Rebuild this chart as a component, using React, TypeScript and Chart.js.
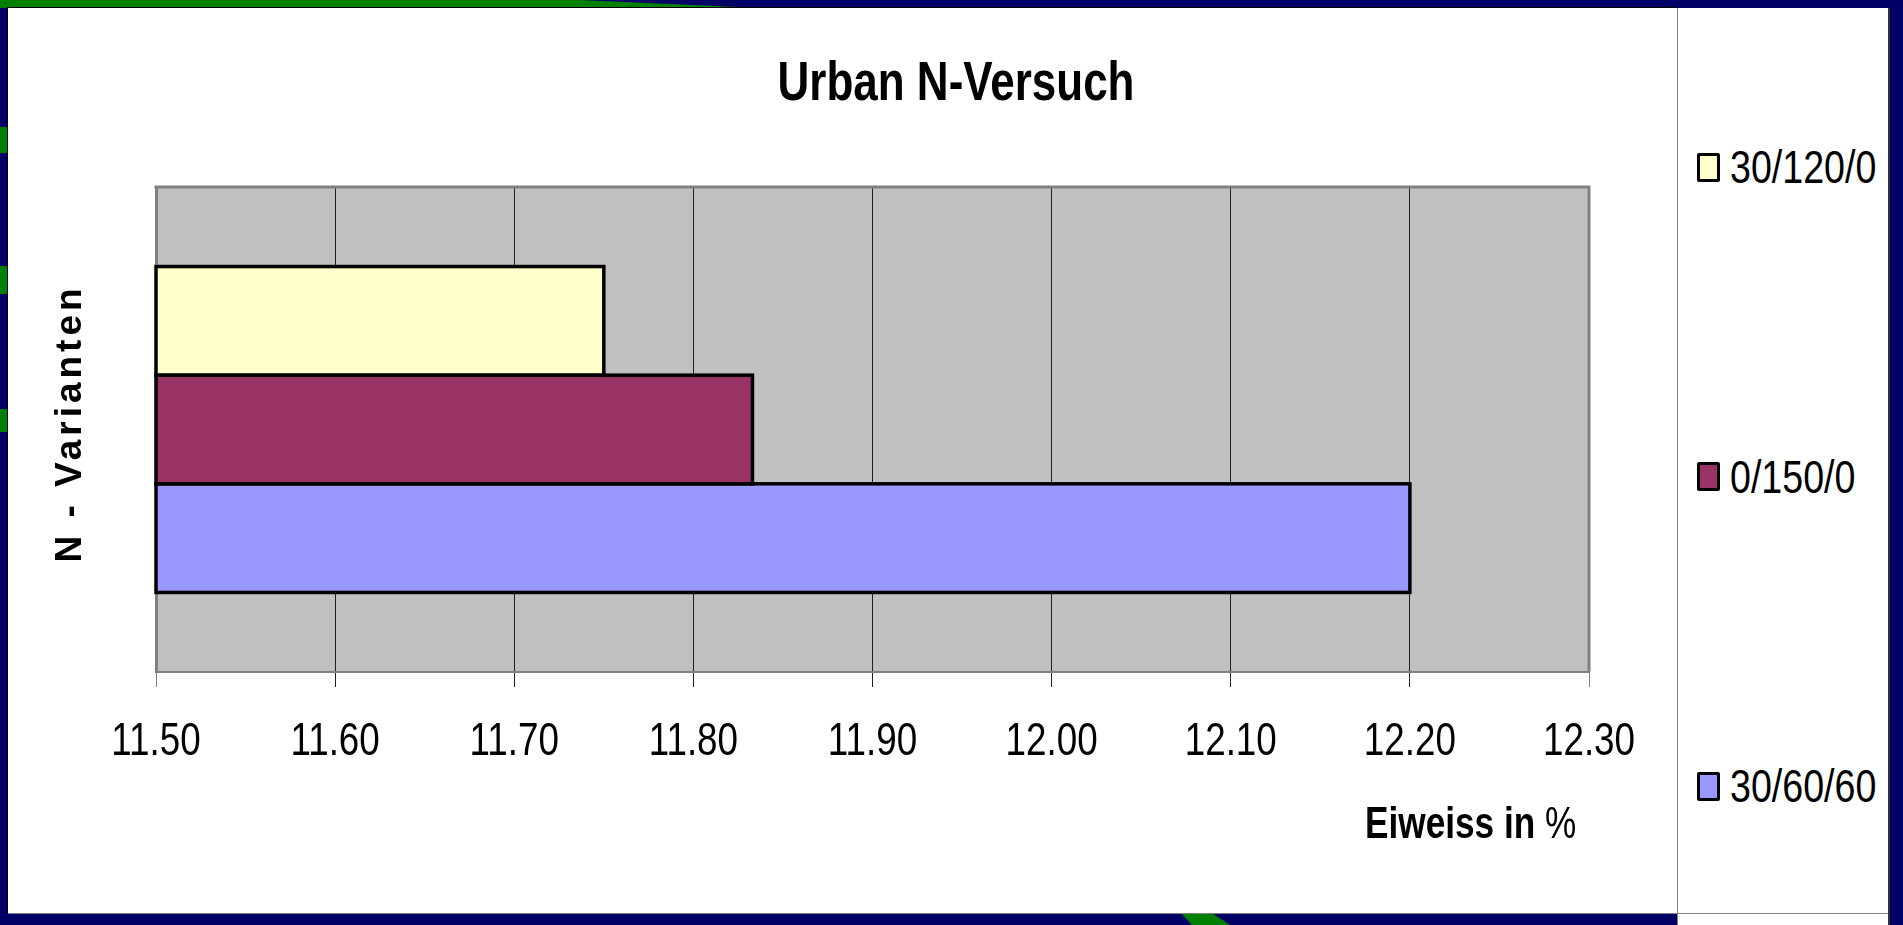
import React, { useEffect, useRef } from "react";
import { Chart, registerables } from "chart.js";

Chart.register(...registerables);

// ---------- data ----------
const categories = [""];
const seriesLabels = ["30/120/0", "0/150/0", "30/60/60"];
const seriesValues = [11.75, 11.833, 12.2];
const seriesColors = ["#FFFFCC", "#993366", "#9999FF"];
const xTickValues = [11.5, 11.6, 11.7, 11.8, 11.9, 12.0, 12.1, 12.2, 12.3];
const chartTitle = "Urban N-Versuch";
const yAxisTitle = "N - Varianten";
const xAxisTitleBold = "Eiweiss in ";
const xAxisTitleRegular = "%";

// ---------- styles ----------
// "Arial Narrow" is emulated: Liberation Sans drawn with a horizontal squeeze.
const NARROW = "'Arial Narrow', 'Liberation Sans', Arial, sans-serif";
const SANS = "'Liberation Sans', Arial, sans-serif";
const SQUEEZE = 0.8;
const NAVY = "#000066";
const GREEN = "#008000";
const BAR_OUTLINE = 3.5;

function installNarrowEmulation(ctx: any) {
  if (!ctx || ctx.__narrowPatched) return;
  const origFill = ctx.fillText.bind(ctx);
  const origMeasure = ctx.measureText.bind(ctx);
  const isNarrow = () => String(ctx.font).indexOf("Arial Narrow") !== -1;
  ctx.fillText = (text: string, x: number, y: number, maxWidth?: number) => {
    if (!isNarrow()) {
      return maxWidth === undefined ? origFill(text, x, y) : origFill(text, x, y, maxWidth);
    }
    ctx.save();
    ctx.translate(x, y);
    ctx.scale(SQUEEZE, 1);
    origFill(text, 0, 0);
    ctx.restore();
  };
  ctx.measureText = (text: string) => {
    const m = origMeasure(text);
    if (!isNarrow()) return m;
    return {
      width: m.width * SQUEEZE,
      actualBoundingBoxLeft: m.actualBoundingBoxLeft * SQUEEZE,
      actualBoundingBoxRight: m.actualBoundingBoxRight * SQUEEZE,
      actualBoundingBoxAscent: m.actualBoundingBoxAscent,
      actualBoundingBoxDescent: m.actualBoundingBoxDescent,
      fontBoundingBoxAscent: m.fontBoundingBoxAscent,
      fontBoundingBoxDescent: m.fontBoundingBoxDescent,
    };
  };
  ctx.__narrowPatched = true;
}

const decorPlugin = {
  id: "excelDecor",
  beforeDraw(chart: any) {
    const { ctx, chartArea: a } = chart;
    ctx.save();
    ctx.fillStyle = "#C0C0C0";
    ctx.fillRect(a.left, a.top, a.right - a.left, a.bottom - a.top);
    ctx.restore();
  },
  beforeDatasetsDraw(chart: any) {
    const { ctx, chartArea: a } = chart;
    ctx.save();
    ctx.strokeStyle = "#808080";
    ctx.lineWidth = 3;
    ctx.beginPath();
    ctx.moveTo(a.left - 1.5, a.top);
    ctx.lineTo(a.right, a.top);
    ctx.lineTo(a.right, a.bottom);
    ctx.stroke();
    ctx.restore();
  },
  afterDatasetsDraw(chart: any) {
    // black outlines centred on the visible bar edges (shared edges overlap like in Excel)
    const { ctx, chartArea: a } = chart;
    ctx.save();
    ctx.strokeStyle = "#000";
    ctx.lineWidth = BAR_OUTLINE;
    ctx.lineJoin = "miter";
    chart.data.datasets.forEach((_ds: any, i: number) => {
      const meta = chart.getDatasetMeta(i);
      meta.data.forEach((el: any) => {
        const { x, y, base, height } = el.getProps(["x", "y", "base", "height"], true);
        const left = Math.max(Math.min(x, base), a.left);
        const right = Math.min(Math.max(x, base), a.right);
        ctx.strokeRect(left, y - height / 2, right - left, height);
      });
    });
    ctx.restore();
  },
  afterDraw(chart: any) {
    const { ctx, chartArea: a } = chart;
    ctx.save();
    ctx.fillStyle = "#000";
    // main title
    ctx.font = `bold 55px ${NARROW}`;
    ctx.textAlign = "center";
    ctx.textBaseline = "alphabetic";
    ctx.fillText(chartTitle, 948, 92);

    // y axis title (rotated, letter spaced)
    ctx.save();
    ctx.translate(73, (a.top + a.bottom) / 2 - 4);
    ctx.rotate(-Math.PI / 2);
    ctx.font = `bold 37px ${SANS}`;
    (ctx as any).letterSpacing = "4px";
    ctx.textAlign = "center";
    ctx.fillText(yAxisTitle, 2, 0);
    (ctx as any).letterSpacing = "0px";
    ctx.restore();

    // x axis title: bold part + regular "%"
    ctx.textAlign = "left";
    ctx.font = `bold 44px ${NARROW}`;
    const x0 = 1357;
    const yb = 830;
    ctx.fillText(xAxisTitleBold, x0, yb);
    const w = ctx.measureText(xAxisTitleBold).width;
    ctx.font = `44px ${NARROW}`;
    ctx.fillText(xAxisTitleRegular, x0 + w, yb);
    ctx.restore();
  },
};

function ChartPanel() {
  const ref = useRef<HTMLCanvasElement>(null);
  useEffect(() => {
    if (!ref.current) return;
    installNarrowEmulation(ref.current.getContext("2d"));
    const chart = new Chart(ref.current, {
      type: "bar",
      data: {
        labels: categories,
        datasets: seriesLabels.map((label, i) => ({
          label,
          data: [seriesValues[i]],
          backgroundColor: seriesColors[i],
          borderColor: "#000000",
          borderWidth: 0,
          borderSkipped: false,
          categoryPercentage: 0.672,
          barPercentage: 1,
        })),
      },
      options: {
        indexAxis: "y",
        animation: false,
        responsive: false,
        maintainAspectRatio: false,
        devicePixelRatio: 1,
        layout: { padding: { left: 148, top: 179, right: 88, bottom: 141 } },
        plugins: {
          legend: { display: false },
          title: { display: false },
          tooltip: { enabled: false },
        },
        scales: {
          x: {
            type: "linear",
            position: "bottom",
            min: xTickValues[0],
            max: xTickValues[xTickValues.length - 1],
            afterBuildTicks: (scale: any) => {
              scale.ticks = xTickValues.map((v) => ({ value: v }));
            },
            afterFit: (scale: any) => {
              scale.height = 100;
            },
            ticks: {
              callback: (v: any) => Number(v).toFixed(2),
              font: { family: NARROW, size: 46 },
              color: "#000",
              padding: 28,
              maxRotation: 0,
              autoSkip: false,
            },
            grid: {
              color: "#202020",
              lineWidth: 1,
              tickLength: 15,
              tickColor: (c: any) =>
                c.index === 0 || c.index === xTickValues.length - 1 ? "#808080" : "#202020",
            },
            border: { display: true, color: "#808080", width: 2 },
          },
          y: {
            type: "category",
            ticks: { display: false },
            grid: { display: false, drawTicks: false },
            border: { display: true, color: "#808080", width: 3 },
            afterFit: (scale: any) => {
              scale.width = 0;
            },
          },
        },
      },
      plugins: [decorPlugin],
    } as any);
    return () => chart.destroy();
  }, []);
  return <canvas ref={ref} width={1669} height={905} style={{ display: "block" }} />;
}

export default function App() {
  const legendTop = 167;
  const legendStep = 309.5;
  return (
    <div
      style={{
        position: "fixed",
        left: 0,
        top: 0,
        width: 1903,
        height: 925,
        overflow: "hidden",
        background: NAVY,
      }}
    >
      {/* green decorative bits of the slide background */}
      <div
        style={{
          position: "absolute",
          left: 0,
          top: 0,
          width: 760,
          height: 8,
          background: GREEN,
          clipPath: "polygon(0 0, 580px 0, 760px 8px, 0 8px)",
        }}
      />
      <div style={{ position: "absolute", left: 0, top: 127, width: 9, height: 26, background: GREEN }} />
      <div style={{ position: "absolute", left: 0, top: 266, width: 9, height: 28, background: GREEN }} />
      <div style={{ position: "absolute", left: 0, top: 409, width: 9, height: 23, background: GREEN }} />
      <div
        style={{
          position: "absolute",
          left: 1180,
          top: 912,
          width: 50,
          height: 13,
          background: GREEN,
          clipPath: "polygon(0 0, 30px 0, 50px 13px, 12px 13px)",
        }}
      />

      {/* chart panel */}
      <div
        style={{
          position: "absolute",
          left: 8,
          top: 8,
          width: 1669,
          height: 905,
          background: "#ffffff",
          boxShadow: "-1px -1px 0 #000, 0 1px 0 #808080",
        }}
      >
        <ChartPanel />
      </div>

      {/* legend panel */}
      <div
        style={{
          position: "absolute",
          left: 1677,
          top: 8,
          width: 213,
          height: 917,
          background: "#ffffff",
          borderLeft: "1px solid #808080",
          borderRight: "2px solid #303030",
          boxSizing: "border-box",
        }}
      >
        <div style={{ position: "absolute", left: 0, right: 0, top: 905, height: 1, background: "#808080" }} />
        {seriesLabels.map((label, i) => (
          <div
            key={label}
            style={{
              position: "absolute",
              left: 19,
              top: legendTop + i * legendStep - 8 - 25,
              height: 50,
              display: "flex",
              alignItems: "center",
              whiteSpace: "nowrap",
            }}
          >
            <span
              style={{
                display: "inline-block",
                width: 23,
                height: 29,
                boxSizing: "border-box",
                border: "3px solid #000",
                borderRadius: 2,
                background: seriesColors[i],
              }}
            />
            <span
              style={{
                display: "inline-block",
                marginLeft: 10,
                fontFamily: SANS,
                fontSize: 47,
                lineHeight: "50px",
                color: "#000",
                transform: `scaleX(${SQUEEZE})`,
                transformOrigin: "left center",
              }}
            >
              {label}
            </span>
          </div>
        ))}
      </div>
    </div>
  );
}
